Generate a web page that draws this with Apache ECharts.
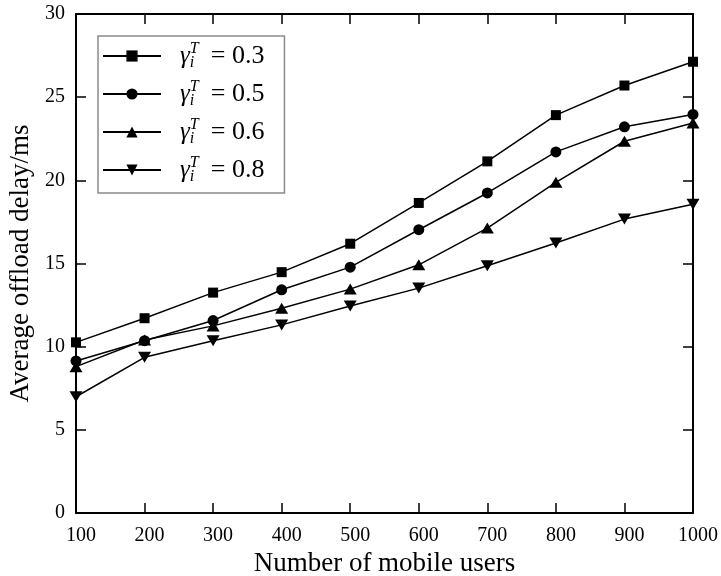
<!DOCTYPE html>
<html>
<head>
<meta charset="utf-8">
<script src="https://cdn.jsdelivr.net/npm/echarts@6/dist/echarts.min.js"></script>
<style>
html,body{margin:0;padding:0;background:#fff;}
#c{width:721px;height:576px;}
</style>
</head>
<body>
<div id="c"></div>
<script>
var users = [100, 200, 300, 400, 500, 600, 700, 800, 900, 1000];
var gammaValues = ['0.3', '0.5', '0.6', '0.8'];
var delay03 = [10.26, 11.71, 13.25, 14.48, 16.19, 18.64, 21.14, 23.92, 25.70, 27.13];
var delay05 = [9.14, 10.36, 11.57, 13.42, 14.78, 17.03, 19.24, 21.71, 23.22, 23.96];
var delay06 = [8.80, 10.40, 11.25, 12.31, 13.46, 14.92, 17.13, 19.88, 22.35, 23.45];
var delay08 = [6.99, 9.36, 10.36, 11.31, 12.45, 13.52, 14.86, 16.23, 17.67, 18.56];
var xTitle = 'Number of mobile users';
var yTitle = 'Average offload delay/ms';

var FONT = '"Liberation Serif", "Times New Roman", serif';
var seriesData = [delay03, delay05, delay06, delay08];
var symbols = ['rect', 'circle', 'triangle', 'path://M0,0 L10,0 L5,9 Z'];
var symbolSizes = [10, 11, [13, 11], [13, 11]];

function pairs(arr) {
  return users.map(function (u, i) { return [u, arr[i]]; });
}

var series = seriesData.map(function (d, k) {
  return {
    name: 'g' + gammaValues[k],
    type: 'line',
    data: pairs(d),
    symbol: symbols[k],
    symbolSize: symbolSizes[k],
    showAllSymbol: true,
    itemStyle: { color: '#000' },
    lineStyle: { color: '#000', width: 1.5 },
    emphasis: { disabled: true },
    animation: false,
    z: 3
  };
});

var chart = echarts.init(document.getElementById('c'), null, { renderer: 'canvas' });
chart.setOption({
  backgroundColor: '#fff',
  animation: false,
  grid: { left: 76, right: 28, top: 14, bottom: 63, containLabel: false, outerBoundsMode: 'none' },
  legend: {
    orient: 'vertical',
    left: 98,
    top: 36,
    padding: [5, 20, 8, 4],
    itemGap: 8,
    itemWidth: 58,
    itemHeight: 14,
    borderColor: '#8a8a8a',
    borderWidth: 1.5,
    backgroundColor: '#fff',
    selectedMode: false,
    data: gammaValues.map(function (v) { return 'g' + v; }),
    formatter: function (name) {
      var v = name.slice(1);
      return '{g|γ}{t|T}{i|i}{e| = ' + v + '}';
    },
    textStyle: {
      fontFamily: FONT,
      color: '#000',
      rich: {
        g: { fontFamily: FONT, fontStyle: 'italic', fontSize: 25, color: '#000', padding: [0, 0, 0, 14] },
        t: { fontFamily: FONT, fontStyle: 'italic', fontSize: 16, color: '#000', width: 0, padding: [0, 0, 14, 0] },
        i: { fontFamily: FONT, fontStyle: 'italic', fontSize: 16, color: '#000', padding: [14, 0, 0, 0] },
        e: { fontFamily: FONT, fontSize: 26, color: '#000', padding: [0, 0, 0, 10] }
      }
    }
  },
  xAxis: [{
    type: 'value',
    min: 100,
    max: 1000,
    interval: 100,
    position: 'bottom',
    name: xTitle,
    nameLocation: 'middle',
    nameGap: 28,
    nameTextStyle: { fontFamily: FONT, fontSize: 27, color: '#000' },
    axisLine: { show: true, onZero: false, lineStyle: { color: '#000', width: 2 } },
    axisTick: { show: true, inside: true, length: 10, lineStyle: { color: '#000', width: 1.5 } },
    axisLabel: {
      fontFamily: FONT, fontSize: 20, color: '#000', margin: 13, padding: [0, 0, 0, 10],
      formatter: function (v) { return String(v); }
    },
    splitLine: { show: false }
  }, {
    type: 'value',
    min: 100,
    max: 1000,
    interval: 100,
    position: 'top',
    axisLine: { show: true, onZero: false, lineStyle: { color: '#000', width: 2 } },
    axisTick: { show: true, inside: true, length: 10, lineStyle: { color: '#000', width: 1.5 } },
    axisLabel: { show: false },
    splitLine: { show: false }
  }],
  yAxis: [{
    type: 'value',
    min: 0,
    max: 30,
    interval: 5,
    position: 'left',
    name: yTitle,
    nameLocation: 'middle',
    nameGap: 37,
    nameTextStyle: { fontFamily: FONT, fontSize: 27, color: '#000' },
    axisLine: { show: true, onZero: false, lineStyle: { color: '#000', width: 2 } },
    axisTick: { show: true, inside: true, length: 10, lineStyle: { color: '#000', width: 1.5 } },
    axisLabel: { fontFamily: FONT, fontSize: 20, color: '#000', margin: 11 },
    splitLine: { show: false }
  }, {
    type: 'value',
    min: 0,
    max: 30,
    interval: 5,
    position: 'right',
    axisLine: { show: true, onZero: false, lineStyle: { color: '#000', width: 2 } },
    axisTick: { show: true, inside: true, length: 10, lineStyle: { color: '#000', width: 1.5 } },
    axisLabel: { show: false },
    splitLine: { show: false }
  }],
  series: series
});
</script>
</body>
</html>
